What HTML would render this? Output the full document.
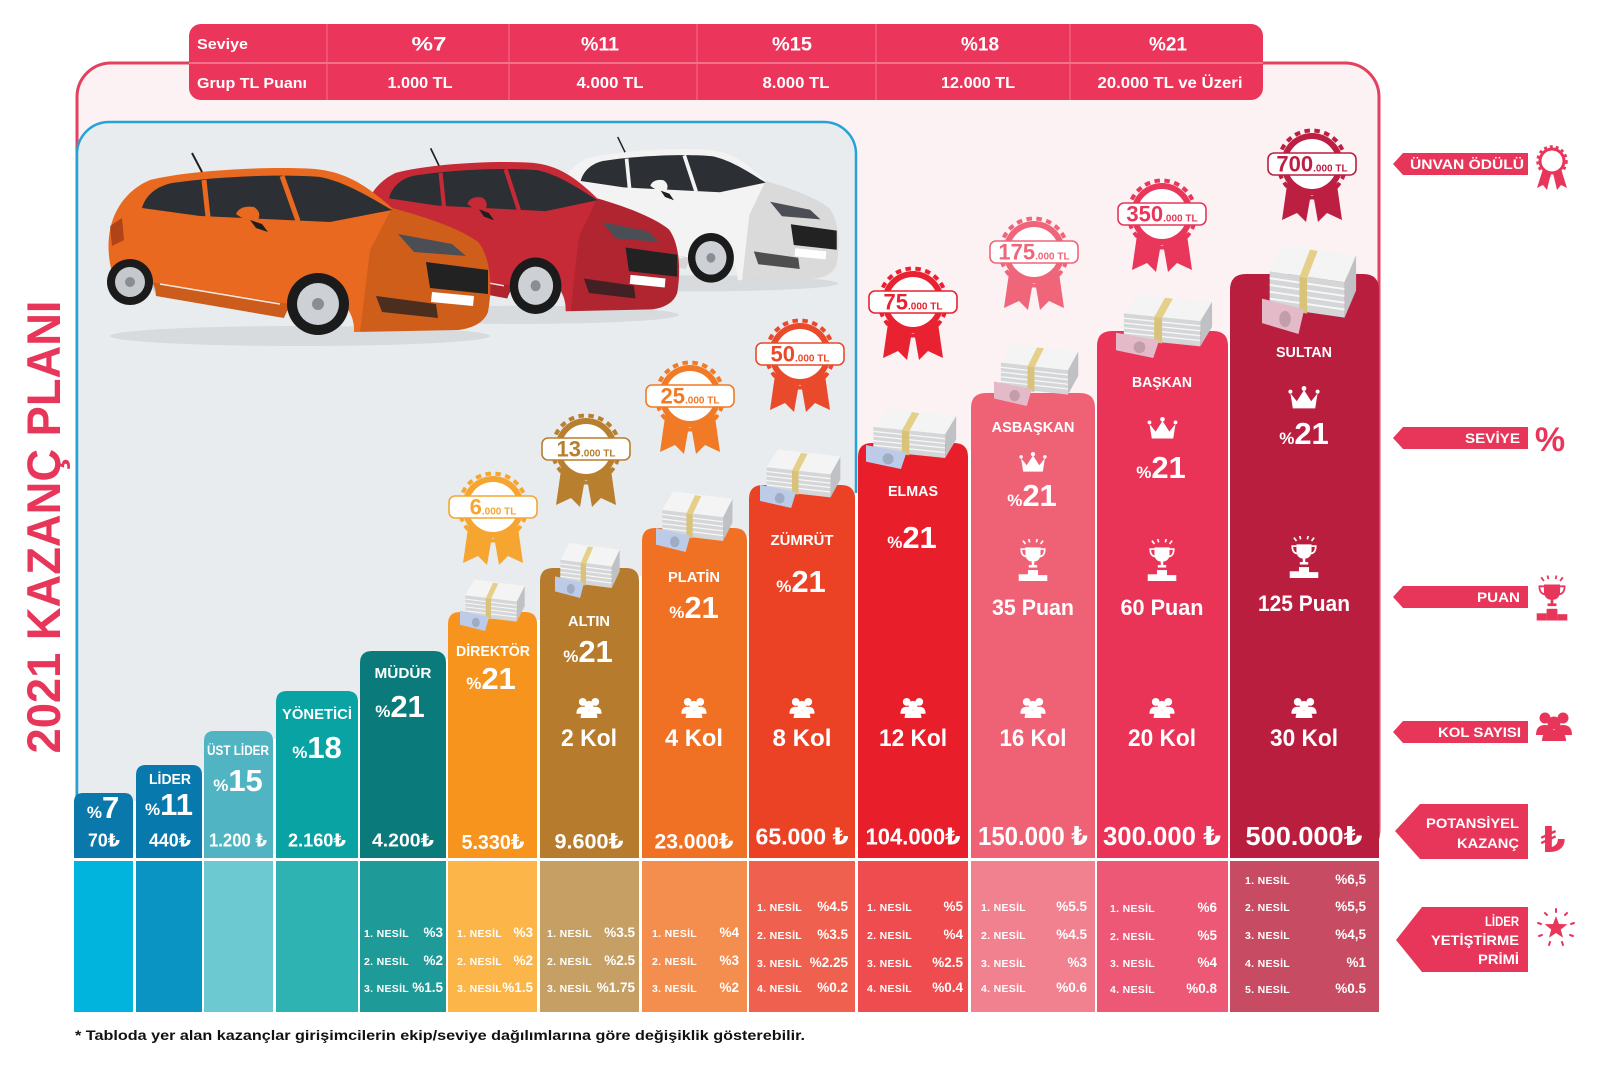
<!DOCTYPE html>
<html><head><meta charset="utf-8"><style>
html,body{margin:0;padding:0;background:#fff;}
svg{display:block;font-family:"Liberation Sans","DejaVu Sans",sans-serif;font-weight:bold;}
</style></head><body>
<svg width="1600" height="1076" viewBox="0 0 1600 1076" xmlns="http://www.w3.org/2000/svg" xmlns:xlink="http://www.w3.org/1999/xlink">
<defs>
 <g id="car">
  <ellipse cx="300" cy="336" rx="190" ry="10" fill="#000" opacity=".07"/>
  <path fill="currentColor" d="M112 272 C106 250 108 228 116 212 C124 196 136 186 150 180 C190 170 270 166 315 169 C345 172 365 184 392 208 C430 218 462 230 478 242 C490 256 493 285 488 312 C484 322 474 328 458 330 L354 332 A36 36 0 0 0 284 318 L156 296 A26 26 0 0 0 108 282 Z"/>
  <path fill="#000" opacity=".12" d="M150 282 L290 304 L284 318 L156 296 Z"/>
  <path fill="#000" opacity=".1" d="M392 208 C430 218 462 230 478 242 C490 256 493 285 488 312 C484 322 474 328 458 330 L360 332 L370 250 Z"/>
  <path fill="#2c2f33" d="M142 208 C146 194 158 186 172 183 C220 176 285 174 320 177 C345 182 368 196 392 210 L330 222 L200 216 Z"/>
  <path stroke="currentColor" stroke-width="5" fill="none" d="M204 180 L208 217 M282 176 L298 221"/>
  <path fill="currentColor" d="M236 214 Q240 205 254 207 Q262 212 258 220 Q246 222 236 214 Z"/>
  <path fill="#1e1e1e" d="M250 220 L262 224 L268 232 L256 228 Z"/>
  <path fill="#4b4f55" d="M398 234 L452 244 L466 256 L414 252 Z"/>
  <path fill="#222" d="M426 262 L488 270 L488 294 L430 288 Z"/>
  <path fill="#1f1f1f" opacity=".75" d="M376 296 L436 304 L438 318 L382 312 Z"/>
  <path fill="#fff" d="M432 292 L474 296 L473 306 L431 302 Z"/>
  <path stroke="#fff" stroke-width="1.6" opacity=".85" fill="none" d="M160 284 L280 304"/>
  <path fill="#7a1d12" opacity=".5" d="M110 226 L122 218 L124 240 L112 246 Z"/>
  <circle cx="130" cy="282" r="23" fill="#1b1b1b"/><circle cx="130" cy="282" r="15" fill="#c5c8cc"/><circle cx="130" cy="282" r="5" fill="#8a8e93"/>
  <circle cx="318" cy="304" r="31" fill="#1b1b1b"/><circle cx="318" cy="304" r="21" fill="#cdd0d4"/><circle cx="318" cy="304" r="6" fill="#8a8e93"/>
  <path stroke="#222" stroke-width="2" d="M192 153 L202 172"/>
 </g>
 <symbol id="money" viewBox="0 0 100 72" preserveAspectRatio="none">
  <polygon points="8,26 86,34 86,60 8,52" fill="#d5d6d8"/>
  <polygon points="86,34 98,14 98,40 86,60" fill="#bfc1c4"/>
  <polygon points="22,6 98,14 86,34 8,26" fill="#f4f4f4"/>
  <g stroke="#f7f7f7" stroke-width="1.4"><line x1="8" y1="31" x2="86" y2="39"/><line x1="8" y1="36" x2="86" y2="44"/><line x1="8" y1="41" x2="86" y2="49"/><line x1="8" y1="46" x2="86" y2="54"/></g>
  <polygon points="50,10 58,11 47,31 39,30" fill="#e4d089"/>
  <polygon points="39,30 47,31 47,57 39,56" fill="#d9c27a"/>
  <polygon points="0,46 44,54 38,72 0,64" fill="currentColor"/>
  <ellipse cx="24" cy="61" rx="6" ry="6" fill="#000" opacity=".15"/>
 </symbol>
 <symbol id="people" viewBox="0 0 40 30">
  <circle cx="11" cy="7" r="5.5" fill="currentColor"/>
  <path d="M2 24 Q2 14 11 14 Q20 14 20 24 Z" fill="currentColor"/>
  <circle cx="29" cy="7" r="5.5" fill="currentColor"/>
  <path d="M20 24 Q20 14 29 14 Q38 14 38 24 Z" fill="currentColor"/>
  <circle cx="20" cy="12" r="6.5" fill="currentColor"/>
  <path d="M8 30 Q8 19 20 19 Q32 19 32 30 Z" fill="currentColor"/>
 </symbol>
 <symbol id="trophy" viewBox="0 0 40 50">
  <path d="M11 10 H29 V17 Q29 27 20 27 Q11 27 11 17 Z" fill="currentColor"/>
  <path d="M11 12 H6 Q6 20 12 21 M29 12 H34 Q34 20 28 21" fill="none" stroke="currentColor" stroke-width="2"/>
  <rect x="18.5" y="26" width="3" height="6" fill="currentColor"/>
  <rect x="15" y="31" width="10" height="3" fill="currentColor"/>
  <rect x="14" y="37" width="12" height="13" fill="currentColor"/>
  <rect x="3" y="42" width="11" height="8" fill="currentColor"/>
  <rect x="26" y="43" width="11" height="7" fill="currentColor"/>
  <path d="M8 2 L11 6 M15 0 L16 4 M25 0 L24 4 M32 2 L29 6" stroke="currentColor" stroke-width="2"/>
 </symbol>
 <symbol id="crown" viewBox="0 0 40 30">
  <path d="M3 9 L11 19 L20 5 L29 19 L37 9 L34 28 H6 Z" fill="currentColor"/>
  <circle cx="3" cy="7" r="2.5" fill="currentColor"/><circle cx="20" cy="3" r="3" fill="currentColor"/><circle cx="37" cy="7" r="2.5" fill="currentColor"/>
 </symbol>
 <g id="medalshape">
  <polygon points="-24,14 0,24 -6,58 -15,49 -30,56" fill="currentColor"/>
  <polygon points="24,14 0,24 6,58 15,49 30,56" fill="currentColor"/>
  <circle r="31" fill="currentColor"/>
  <circle r="33.5" fill="none" stroke="currentColor" stroke-width="4" stroke-dasharray="5.5 4.5"/>
  <circle r="25" fill="#fff"/>
  <rect x="-44" y="-11" width="88" height="22" rx="6" fill="#fff" stroke="currentColor" stroke-width="1.6"/>
 </g>
</defs>

<rect width="1600" height="1076" fill="#fff"/>

<rect x="77" y="63" width="1302" height="800" rx="34" fill="#fcf2f4" stroke="#e2415f" stroke-width="3"/>
<rect x="77" y="122" width="779" height="740" rx="32" fill="#e9ecef" stroke="#26a3d4" stroke-width="2.5"/>

<use xlink:href="#car" href="#car" transform="translate(475.6,14.6) scale(0.74,0.8)" style="color:#f3f3f4"/>
<use xlink:href="#car" href="#car" transform="translate(270.7,9.1) scale(0.833,0.91)" style="color:#c62a36"/>
<use xlink:href="#car" href="#car" style="color:#e8691f"/>

<g fill="#fff">
 <rect x="72" y="857" width="1310" height="157"/>
 <rect x="133" y="801" width="3" height="60"/>
 <rect x="202" y="773" width="2" height="88"/>
 <rect x="273" y="739" width="3" height="122"/>
 <rect x="358" y="699" width="2" height="162"/>
 <rect x="446" y="659" width="2" height="202"/>
 <rect x="537" y="620" width="3" height="241"/>
 <rect x="639" y="576" width="3" height="285"/>
 <rect x="747" y="536" width="2" height="325"/>
 <rect x="855" y="493" width="3" height="368"/>
 <rect x="968" y="451" width="3" height="410"/>
 <rect x="1095" y="401" width="2" height="460"/>
 <rect x="1228" y="339" width="2" height="522"/>
</g>

<path fill="#0a78aa" d="M74 858 V802 Q74 793 83 793 H124 Q133 793 133 802 V858 Z"/>
<path fill="#0879ad" d="M136 858 V775 Q136 765 146 765 H192 Q202 765 202 775 V858 Z"/>
<path fill="#50b4c3" d="M204 858 V741 Q204 731 214 731 H263 Q273 731 273 741 V858 Z"/>
<path fill="#0aa3a3" d="M276 858 V702 Q276 691 287 691 H347 Q358 691 358 702 V858 Z"/>
<path fill="#0a7b7a" d="M360 858 V663 Q360 651 372 651 H434 Q446 651 446 663 V858 Z"/>
<path fill="#f7941d" d="M448 858 V624 Q448 612 460 612 H525 Q537 612 537 624 V858 Z"/>
<path fill="#b67b2d" d="M540 858 V581 Q540 568 553 568 H626 Q639 568 639 581 V858 Z"/>
<path fill="#f07124" d="M642 858 V541 Q642 528 655 528 H734 Q747 528 747 541 V858 Z"/>
<path fill="#eb4226" d="M749 858 V499 Q749 485 763 485 H841 Q855 485 855 499 V858 Z"/>
<path fill="#e81f2a" d="M858 858 V457 Q858 443 872 443 H954 Q968 443 968 457 V858 Z"/>
<path fill="#ef6276" d="M971 858 V408 Q971 393 986 393 H1080 Q1095 393 1095 408 V858 Z"/>
<path fill="#e93457" d="M1097 858 V346 Q1097 331 1112 331 H1213 Q1228 331 1228 346 V858 Z"/>
<path fill="#b91e3f" d="M1230 858 V290 Q1230 274 1246 274 H1363 Q1379 274 1379 290 V858 Z"/>

<rect x="74" y="861" width="59" height="151" fill="#00b4de"/>
<rect x="136" y="861" width="66" height="151" fill="#0a94c4"/>
<rect x="204" y="861" width="69" height="151" fill="#6cc9d1"/>
<rect x="276" y="861" width="82" height="151" fill="#2eb3b2"/>
<rect x="360" y="861" width="86" height="151" fill="#1e9b98"/>
<rect x="448" y="861" width="89" height="151" fill="#fbb549"/>
<rect x="540" y="861" width="99" height="151" fill="#c59f64"/>
<rect x="642" y="861" width="105" height="151" fill="#f48e4f"/>
<rect x="749" y="861" width="106" height="151" fill="#f0604f"/>
<rect x="858" y="861" width="110" height="151" fill="#ee4c4e"/>
<rect x="971" y="861" width="124" height="151" fill="#f2818f"/>
<rect x="1097" y="861" width="131" height="151" fill="#ec5875"/>
<rect x="1230" y="861" width="149" height="151" fill="#c64b63"/>

<g font-weight="bold" text-anchor="middle">
 <g transform="translate(493,507)" style="color:#f6a630" fill="#f6a630"><use xlink:href="#medalshape" href="#medalshape"/><text y="7.5"><tspan font-size="22">6</tspan><tspan font-size="10">.000 TL</tspan></text></g>
 <g transform="translate(586,449)" style="color:#b77f2e" fill="#b77f2e"><use xlink:href="#medalshape" href="#medalshape"/><text y="7.5"><tspan font-size="22">13</tspan><tspan font-size="10">.000 TL</tspan></text></g>
 <g transform="translate(690,396)" style="color:#f07a26" fill="#f07a26"><use xlink:href="#medalshape" href="#medalshape"/><text y="7.5"><tspan font-size="22">25</tspan><tspan font-size="10">.000 TL</tspan></text></g>
 <g transform="translate(800,354)" style="color:#e94a2c" fill="#e94a2c"><use xlink:href="#medalshape" href="#medalshape"/><text y="7.5"><tspan font-size="22">50</tspan><tspan font-size="10">.000 TL</tspan></text></g>
 <g transform="translate(913,302)" style="color:#e82230" fill="#e82230"><use xlink:href="#medalshape" href="#medalshape"/><text y="7.5"><tspan font-size="22">75</tspan><tspan font-size="10">.000 TL</tspan></text></g>
 <g transform="translate(1034,252)" style="color:#ef6579" fill="#ef6579"><use xlink:href="#medalshape" href="#medalshape"/><text y="7.5"><tspan font-size="22">175</tspan><tspan font-size="10">.000 TL</tspan></text></g>
 <g transform="translate(1162,214)" style="color:#e8375a" fill="#e8375a"><use xlink:href="#medalshape" href="#medalshape"/><text y="7.5"><tspan font-size="22">350</tspan><tspan font-size="10">.000 TL</tspan></text></g>
 <g transform="translate(1312,164)" style="color:#bc1f41" fill="#bc1f41"><use xlink:href="#medalshape" href="#medalshape"/><text y="7.5"><tspan font-size="22">700</tspan><tspan font-size="10">.000 TL</tspan></text></g>
</g>

<use xlink:href="#money" href="#money" x="460" y="575" width="66" height="56" style="color:#bccbe7"/>
<use xlink:href="#money" href="#money" x="555" y="538" width="66" height="60" style="color:#bccbe7"/>
<use xlink:href="#money" href="#money" x="656" y="486" width="78" height="66" style="color:#bccbe7"/>
<use xlink:href="#money" href="#money" x="760" y="444" width="82" height="64" style="color:#bccbe7"/>
<use xlink:href="#money" href="#money" x="866" y="403" width="92" height="66" style="color:#bccbe7"/>
<use xlink:href="#money" href="#money" x="994" y="338" width="86" height="68" style="color:#e4b9c8"/>
<use xlink:href="#money" href="#money" x="1116" y="288" width="98" height="70" style="color:#e4b9c8"/>
<use xlink:href="#money" href="#money" x="1262" y="236" width="96" height="98" style="color:#e4b9c8"/>

<g fill="#fff" text-anchor="middle">
 <g font-size="15">
  <text x="170" y="784" textLength="42" lengthAdjust="spacingAndGlyphs">LİDER</text>
  <text x="238" y="755" font-size="14" textLength="62" lengthAdjust="spacingAndGlyphs">ÜST LİDER</text>
  <text x="317" y="719" textLength="70" lengthAdjust="spacingAndGlyphs">YÖNETİCİ</text>
  <text x="403" y="678" textLength="57" lengthAdjust="spacingAndGlyphs">MÜDÜR</text>
  <text x="493" y="656" textLength="74" lengthAdjust="spacingAndGlyphs">DİREKTÖR</text>
  <text x="589" y="626" textLength="42" lengthAdjust="spacingAndGlyphs">ALTIN</text>
  <text x="694" y="582" textLength="52" lengthAdjust="spacingAndGlyphs">PLATİN</text>
  <text x="802" y="545" textLength="63" lengthAdjust="spacingAndGlyphs">ZÜMRÜT</text>
  <text x="913" y="496" textLength="50" lengthAdjust="spacingAndGlyphs">ELMAS</text>
  <text x="1033" y="432" textLength="83" lengthAdjust="spacingAndGlyphs">ASBAŞKAN</text>
  <text x="1162" y="387" textLength="60" lengthAdjust="spacingAndGlyphs">BAŞKAN</text>
  <text x="1304" y="357" textLength="56" lengthAdjust="spacingAndGlyphs">SULTAN</text>
 </g>
 <text x="103" y="818"><tspan font-size="17">%</tspan><tspan font-size="31">7</tspan></text>
 <text x="169" y="815"><tspan font-size="17">%</tspan><tspan font-size="31">11</tspan></text>
 <text x="238" y="791"><tspan font-size="17">%</tspan><tspan font-size="31">15</tspan></text>
 <text x="317" y="758"><tspan font-size="17">%</tspan><tspan font-size="31">18</tspan></text>
 <text x="400" y="717"><tspan font-size="17">%</tspan><tspan font-size="31">21</tspan></text>
 <text x="491" y="689"><tspan font-size="17">%</tspan><tspan font-size="31">21</tspan></text>
 <text x="588" y="662"><tspan font-size="17">%</tspan><tspan font-size="31">21</tspan></text>
 <text x="694" y="618"><tspan font-size="17">%</tspan><tspan font-size="31">21</tspan></text>
 <text x="801" y="592"><tspan font-size="17">%</tspan><tspan font-size="31">21</tspan></text>
 <text x="912" y="548"><tspan font-size="17">%</tspan><tspan font-size="31">21</tspan></text>
 <text x="1032" y="506"><tspan font-size="17">%</tspan><tspan font-size="31">21</tspan></text>
 <text x="1161" y="478"><tspan font-size="17">%</tspan><tspan font-size="31">21</tspan></text>
 <text x="1304" y="444"><tspan font-size="17">%</tspan><tspan font-size="31">21</tspan></text>
 <text x="1033" y="615" font-size="22" textLength="82" lengthAdjust="spacingAndGlyphs">35 Puan</text>
 <text x="1162" y="615" font-size="22" textLength="83" lengthAdjust="spacingAndGlyphs">60 Puan</text>
 <text x="1304" y="611" font-size="22" textLength="92" lengthAdjust="spacingAndGlyphs">125 Puan</text>
 <g font-size="24">
  <text x="589" y="746" textLength="56" lengthAdjust="spacingAndGlyphs">2 Kol</text>
  <text x="694" y="746" textLength="58" lengthAdjust="spacingAndGlyphs">4 Kol</text>
  <text x="802" y="746" textLength="59" lengthAdjust="spacingAndGlyphs">8 Kol</text>
  <text x="913" y="746" textLength="68" lengthAdjust="spacingAndGlyphs">12 Kol</text>
  <text x="1033" y="746" textLength="67" lengthAdjust="spacingAndGlyphs">16 Kol</text>
  <text x="1162" y="746" textLength="68" lengthAdjust="spacingAndGlyphs">20 Kol</text>
  <text x="1304" y="746" textLength="68" lengthAdjust="spacingAndGlyphs">30 Kol</text>
 </g>
 <text x="104" y="846.5" font-size="18" textLength="32" lengthAdjust="spacingAndGlyphs">70₺</text>
 <text x="170" y="846.5" font-size="18" textLength="42" lengthAdjust="spacingAndGlyphs">440₺</text>
 <text x="238" y="846.5" font-size="18" textLength="58" lengthAdjust="spacingAndGlyphs">1.200 ₺</text>
 <text x="317" y="846.5" font-size="18" textLength="58" lengthAdjust="spacingAndGlyphs">2.160₺</text>
 <text x="403" y="846.5" font-size="18" textLength="62" lengthAdjust="spacingAndGlyphs">4.200₺</text>
 <text x="493" y="849" font-size="20" textLength="63" lengthAdjust="spacingAndGlyphs">5.330₺</text>
 <text x="589" y="848.5" font-size="21" textLength="69" lengthAdjust="spacingAndGlyphs">9.600₺</text>
 <text x="694" y="848.5" font-size="21" textLength="79" lengthAdjust="spacingAndGlyphs">23.000₺</text>
 <text x="802" y="844.5" font-size="23" textLength="93" lengthAdjust="spacingAndGlyphs">65.000 ₺</text>
 <text x="913" y="844.5" font-size="23" textLength="95" lengthAdjust="spacingAndGlyphs">104.000₺</text>
 <text x="1033" y="845" font-size="26" textLength="110" lengthAdjust="spacingAndGlyphs">150.000 ₺</text>
 <text x="1162" y="845" font-size="26" textLength="118" lengthAdjust="spacingAndGlyphs">300.000 ₺</text>
 <text x="1304" y="845" font-size="26" textLength="117" lengthAdjust="spacingAndGlyphs">500.000₺</text>
</g>

<g style="color:#fff">
 <use xlink:href="#people" href="#people" x="575" y="697" width="28" height="21"/>
 <use xlink:href="#people" href="#people" x="680" y="697" width="28" height="21"/>
 <use xlink:href="#people" href="#people" x="788" y="697" width="28" height="21"/>
 <use xlink:href="#people" href="#people" x="899" y="697" width="28" height="21"/>
 <use xlink:href="#people" href="#people" x="1019" y="697" width="28" height="21"/>
 <use xlink:href="#people" href="#people" x="1148" y="697" width="28" height="21"/>
 <use xlink:href="#people" href="#people" x="1290" y="697" width="28" height="21"/>
 <use xlink:href="#trophy" href="#trophy" x="1016" y="539" width="34" height="42"/>
 <use xlink:href="#trophy" href="#trophy" x="1145" y="539" width="34" height="42"/>
 <use xlink:href="#trophy" href="#trophy" x="1287" y="536" width="34" height="42"/>
 <use xlink:href="#crown" href="#crown" x="1019" y="452" width="28" height="21"/>
 <use xlink:href="#crown" href="#crown" x="1147" y="417" width="31" height="23"/>
 <use xlink:href="#crown" href="#crown" x="1288" y="386" width="32" height="24"/>
</g>

<g fill="#fff">
 <g font-size="10.5" letter-spacing="0.3">
  <text x="364" y="937">1. NESİL</text><text x="364" y="965">2. NESİL</text><text x="364" y="992">3. NESİL</text>
  <text x="457" y="937">1. NESİL</text><text x="457" y="965">2. NESİL</text><text x="457" y="992">3. NESİL</text>
  <text x="547" y="937">1. NESİL</text><text x="547" y="965">2. NESİL</text><text x="547" y="992">3. NESİL</text>
  <text x="652" y="937">1. NESİL</text><text x="652" y="965">2. NESİL</text><text x="652" y="992">3. NESİL</text>
  <text x="757" y="911">1. NESİL</text><text x="757" y="939">2. NESİL</text><text x="757" y="967">3. NESİL</text><text x="757" y="992">4. NESİL</text>
  <text x="867" y="911">1. NESİL</text><text x="867" y="939">2. NESİL</text><text x="867" y="967">3. NESİL</text><text x="867" y="992">4. NESİL</text>
  <text x="981" y="911">1. NESİL</text><text x="981" y="939">2. NESİL</text><text x="981" y="967">3. NESİL</text><text x="981" y="992">4. NESİL</text>
  <text x="1110" y="912">1. NESİL</text><text x="1110" y="940">2. NESİL</text><text x="1110" y="967">3. NESİL</text><text x="1110" y="993">4. NESİL</text>
  <text x="1245" y="884">1. NESİL</text><text x="1245" y="911">2. NESİL</text><text x="1245" y="939">3. NESİL</text><text x="1245" y="967">4. NESİL</text><text x="1245" y="993">5. NESİL</text>
 </g>
 <g font-size="13.5" text-anchor="end">
  <text x="443" y="937">%3</text><text x="443" y="965">%2</text><text x="443" y="992">%1.5</text>
  <text x="533" y="937">%3</text><text x="533" y="965">%2</text><text x="533" y="992">%1.5</text>
  <text x="635" y="937">%3.5</text><text x="635" y="965">%2.5</text><text x="635" y="992">%1.75</text>
  <text x="739" y="937">%4</text><text x="739" y="965">%3</text><text x="739" y="992">%2</text>
  <text x="848" y="911">%4.5</text><text x="848" y="939">%3.5</text><text x="848" y="967">%2.25</text><text x="848" y="992">%0.2</text>
  <text x="963" y="911">%5</text><text x="963" y="939">%4</text><text x="963" y="967">%2.5</text><text x="963" y="992">%0.4</text>
  <text x="1087" y="911">%5.5</text><text x="1087" y="939">%4.5</text><text x="1087" y="967">%3</text><text x="1087" y="992">%0.6</text>
  <text x="1217" y="912">%6</text><text x="1217" y="940">%5</text><text x="1217" y="967">%4</text><text x="1217" y="993">%0.8</text>
  <text x="1366" y="884">%6,5</text><text x="1366" y="911">%5,5</text><text x="1366" y="939">%4,5</text><text x="1366" y="967">%1</text><text x="1366" y="993">%0.5</text>
 </g>
</g>

<rect x="189" y="24" width="1074" height="76" rx="12" fill="#ec355a"/>
<line x1="189" y1="63" x2="1263" y2="63" stroke="#f4869b" stroke-width="1.5"/>
<g stroke="#f27390" stroke-width="1">
 <line x1="327" y1="24" x2="327" y2="100"/><line x1="509" y1="24" x2="509" y2="100"/><line x1="697" y1="24" x2="697" y2="100"/><line x1="876" y1="24" x2="876" y2="100"/><line x1="1070" y1="24" x2="1070" y2="100"/>
</g>
<g fill="#fff">
 <text x="197" y="49" font-size="15" textLength="51" lengthAdjust="spacingAndGlyphs">Seviye</text>
 <text x="197" y="88" font-size="15" textLength="110" lengthAdjust="spacingAndGlyphs">Grup TL Puanı</text>
 <g text-anchor="middle" font-size="19">
  <text x="429" y="50.5" textLength="35" lengthAdjust="spacingAndGlyphs">%7</text>
  <text x="600" y="50.5" textLength="38" lengthAdjust="spacingAndGlyphs">%11</text>
  <text x="792" y="50.5" textLength="40" lengthAdjust="spacingAndGlyphs">%15</text>
  <text x="980" y="50.5" textLength="38" lengthAdjust="spacingAndGlyphs">%18</text>
  <text x="1168" y="50.5" textLength="38" lengthAdjust="spacingAndGlyphs">%21</text>
 </g>
 <g text-anchor="middle" font-size="15.5">
  <text x="420" y="88" textLength="65" lengthAdjust="spacingAndGlyphs">1.000 TL</text>
  <text x="610" y="88" textLength="67" lengthAdjust="spacingAndGlyphs">4.000 TL</text>
  <text x="796" y="88" textLength="67" lengthAdjust="spacingAndGlyphs">8.000 TL</text>
  <text x="978" y="88" textLength="74" lengthAdjust="spacingAndGlyphs">12.000 TL</text>
  <text x="1170" y="88" textLength="145" lengthAdjust="spacingAndGlyphs">20.000 TL ve Üzeri</text>
 </g>
</g>

<g fill="#e8365a">
 <polygon points="1393,164 1403,153 1528,153 1528,175 1403,175"/>
 <polygon points="1393,438 1403,427 1528,427 1528,449 1403,449"/>
 <polygon points="1393,597 1403,586 1528,586 1528,608 1403,608"/>
 <polygon points="1393,732 1403,721 1528,721 1528,743 1403,743"/>
 <polygon points="1395,831 1420,804 1528,804 1528,859 1420,859"/>
 <polygon points="1396,940 1422,907 1528,907 1528,972 1422,972"/>
</g>
<g fill="#fff" font-size="14" text-anchor="end">
 <text x="1524" y="169" textLength="114" lengthAdjust="spacingAndGlyphs">ÜNVAN ÖDÜLÜ</text>
 <text x="1520" y="443" textLength="55" lengthAdjust="spacingAndGlyphs">SEVİYE</text>
 <text x="1520" y="602" textLength="43" lengthAdjust="spacingAndGlyphs">PUAN</text>
 <text x="1521" y="737" textLength="83" lengthAdjust="spacingAndGlyphs">KOL SAYISI</text>
 <text x="1519" y="828" textLength="93" lengthAdjust="spacingAndGlyphs">POTANSİYEL</text>
 <text x="1519" y="848" textLength="62" lengthAdjust="spacingAndGlyphs">KAZANÇ</text>
 <text x="1519" y="926" textLength="34" lengthAdjust="spacingAndGlyphs">LİDER</text>
 <text x="1519" y="945" textLength="88" lengthAdjust="spacingAndGlyphs">YETİŞTİRME</text>
 <text x="1519" y="964" textLength="41" lengthAdjust="spacingAndGlyphs">PRİMİ</text>
</g>

<g fill="#e8365a" style="color:#e8365a">
 <g transform="translate(1552,161)">
  <polygon points="-9,8 -1,12 -5,29 -9,24 -15,27"/>
  <polygon points="9,8 1,12 5,29 9,24 15,27"/>
  <circle r="12" fill="#fff" stroke="#e8365a" stroke-width="3"/>
  <circle r="14.5" fill="none" stroke="#e8365a" stroke-width="2.5" stroke-dasharray="3 3"/>
 </g>
 <text x="1550" y="451" font-size="34" text-anchor="middle">%</text>
 <use xlink:href="#trophy" href="#trophy" x="1534" y="575" width="36" height="46"/>
 <use xlink:href="#people" href="#people" x="1534" y="710" width="40" height="32"/>
 <text x="1553" y="852" font-size="36" text-anchor="middle">₺</text>
 <g transform="translate(1556,928)">
  <polygon points="0,-12 2.94,-4.05 11.41,-3.71 4.76,1.55 7.05,9.71 0,5 -7.05,9.71 -4.76,1.55 -11.41,-3.71 -2.94,-4.05"/>
  <g stroke="#e8365a" stroke-width="2" stroke-linecap="round">
   <line x1="0" y1="-16" x2="0" y2="-19"/><line x1="9" y1="-13" x2="11" y2="-15"/><line x1="-9" y1="-13" x2="-11" y2="-15"/>
   <line x1="15" y1="-4" x2="18" y2="-5"/><line x1="-15" y1="-4" x2="-18" y2="-5"/>
   <line x1="14" y1="7" x2="17" y2="8"/><line x1="-14" y1="7" x2="-17" y2="8"/>
   <line x1="6" y1="14" x2="7" y2="17"/><line x1="-6" y1="14" x2="-7" y2="17"/>
  </g>
 </g>
</g>

<text transform="translate(60,527) rotate(-90)" text-anchor="middle" font-size="47" fill="#e8365a" textLength="453" lengthAdjust="spacingAndGlyphs">2021 KAZANÇ PLANI</text>

<text x="75" y="1040" font-size="13.5" fill="#111" textLength="730" lengthAdjust="spacingAndGlyphs">* Tabloda yer alan kazançlar girişimcilerin ekip/seviye dağılımlarına göre değişiklik gösterebilir.</text>
</svg>
</body></html>
